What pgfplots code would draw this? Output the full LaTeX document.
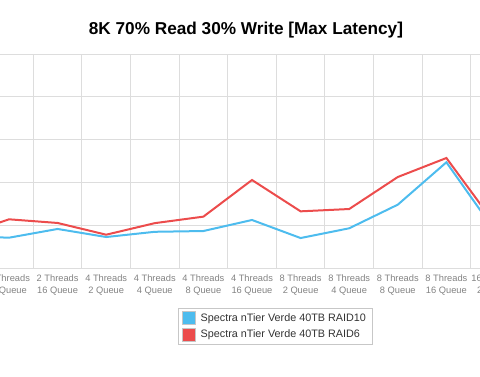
\documentclass[border=0pt]{standalone}
\usepackage{pgfplots}
\pgfplotsset{compat=1.18}
\usepackage{fontspec}
\setmainfont{Liberation Sans}
\definecolor{sblue}{RGB}{77,188,238}
\definecolor{sred}{RGB}{236,76,76}
\definecolor{gridc}{RGB}{221,221,221}
\definecolor{tickc}{RGB}{130,130,130}
\begin{document}
\begin{tikzpicture}
\useasboundingbox (0pt,0pt) rectangle (480pt,376pt);
\clip (0pt,0pt) rectangle (480pt,376pt);
\node[font=\bfseries\fontsize{17.2}{20}\selectfont] at (246pt,345.5pt) {8K 70\% Read 30\% Write [Max Latency]};
\begin{axis}[
  at={(-112.5pt,108pt)}, anchor=south west,
  scale only axis, width=777.6pt, height=214pt,
  xmin=-0.5, xmax=15.5, ymin=0, ymax=250,
  axis line style={draw=none},
  ytick={0,50,...,250}, yticklabels={},
  ymajorgrids, xminorgrids,
  xtick={0,...,15},
  minor xtick={0.5,1.5,...,14.5},
  major tick length=0pt, minor tick length=0pt,
  grid style={gridc, line width=1pt},
  minor grid style={gridc, line width=1pt},
  xticklabels={{},{},{2 Threads\\8 Queue},{2 Threads\\16 Queue},{4 Threads\\2 Queue},{4 Threads\\4 Queue},{4 Threads\\8 Queue},{4 Threads\\16 Queue},{8 Threads\\2 Queue},{8 Threads\\4 Queue},{8 Threads\\8 Queue},{8 Threads\\16 Queue},{16 Threads\\2 Queue},{},{},{}},
  xticklabel style={align=center, font=\fontsize{9.3}{12}\selectfont, text=tickc, yshift=-3.5pt},
  legend style={at={(0.4984,-0.187)}, anchor=north, draw=gridc!90!black, line width=0.6pt,
    font=\fontsize{10.8}{13}\selectfont, text=black!80, row sep=3pt, column sep=3pt, inner xsep=4pt, inner ysep=3pt},
  legend cell align=left,
  legend image code/.code={\filldraw[#1, draw=gray!45, line width=0.5pt] (0pt,-6.5pt) rectangle (13pt,6.5pt);},
]
\addplot[color=sblue, line width=2pt] coordinates {
 (1,37.4) (2,35.4) (3,45.6) (4,36.2) (5,42.3) (6,43.2) (7,56.1) (8,35.0) (9,46.4) (10,74.0) (11,123.5) (12,43.2)};
\addlegendentry{Spectra nTier Verde 40TB RAID10}
\addplot[color=sred, line width=2pt] coordinates {
 (1,37.4) (2,56.9) (3,52.6) (4,38.9) (5,52.4) (6,60.0) (7,102.8) (8,66.2) (9,68.9) (10,106.3) (11,128.5) (12,51.4)};
\addlegendentry{Spectra nTier Verde 40TB RAID6}
\end{axis}
\end{tikzpicture}
\end{document}
